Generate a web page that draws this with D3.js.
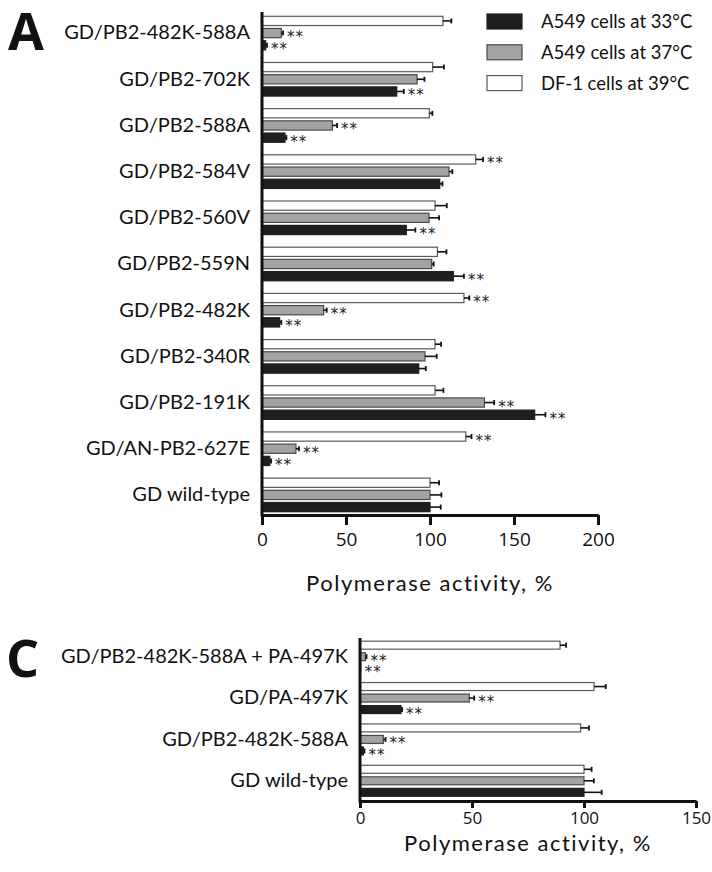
<!DOCTYPE html>
<html><head><meta charset="utf-8">
<script src="https://cdn.jsdelivr.net/npm/d3@7"></script>
<style>
body{margin:0;background:#fff;}
text{font-family:Lato,"Open Sans",sans-serif;fill:#111;}
</style></head>
<body><svg id="c" width="712" height="872"></svg>
<script>
// ---------- DATA ----------
const seriesNames = ["A549 cells at 33°C","A549 cells at 37°C","DF-1 cells at 39°C"];
const catsA = ["GD/PB2-482K-588A","GD/PB2-702K","GD/PB2-588A","GD/PB2-584V","GD/PB2-560V","GD/PB2-559N","GD/PB2-482K","GD/PB2-340R","GD/PB2-191K","GD/AN-PB2-627E","GD wild-type"];
const a33A  = [2.2, 80.2, 13.7, 105.8, 85.9, 113.9, 10.5, 93.3, 162.3, 4.6, 100];
const a37A  = [11.5, 92.3, 41.9, 111.3, 99.4, 101.0, 36.7, 97.0, 132.4, 20.2, 100];
const df39A = [107.7, 101.6, 99.6, 127.2, 103.0, 104.4, 120.2, 103.0, 103.0, 121.3, 100];
const a33ErrA  = [0.8, 4.2, 0.8, 1.6, 5.4, 6.3, 1.0, 4.2, 6.4, 0.8, 6.4];
const a37ErrA  = [1.0, 4.4, 2.8, 2.0, 6.0, 1.2, 1.8, 7.0, 5.8, 1.8, 6.8];
const df39ErrA = [5.0, 6.7, 1.8, 4.4, 7.0, 5.4, 3.2, 3.6, 5.0, 3.4, 5.4];
const a33SigA  = [1,1,1,0,1,1,1,0,1,1,0];
const a37SigA  = [1,0,1,0,0,0,1,0,1,1,0];
const df39SigA = [0,0,0,1,0,0,1,0,0,1,0];
const ticksA = [0,50,100,150,200];

const catsC = ["GD/PB2-482K-588A + PA-497K","GD/PA-497K","GD/PB2-482K-588A","GD wild-type"];
const a33C  = [0.3, 18.3, 1.5, 100];
const a37C  = [2.4, 48.8, 10.4, 100];
const df39C = [89.3, 104.5, 98.5, 100];
const a33ErrC  = [0, 0.5, 0.5, 7.9];
const a37ErrC  = [0.5, 2.2, 1.0, 4.4];
const df39ErrC = [2.7, 5.2, 3.7, 3.4];
const a33SigC  = [1,1,1,0];
const a37SigC  = [1,1,1,0];
const df39SigC = [0,0,0,0];
const ticksC = [0,50,100,150];

const axisTitle = "Polymerase activity, %";

// ---------- STYLE ----------
const fills = ["#1f1f1f","#a3a3a3","#ffffff"];
const strokes = ["#1f1f1f","#4a4a4a","#5a5a5a"];

const svg = d3.select("#c");

function panel(cfg){
  const g = svg.append("g");
  const x = d3.scaleLinear().domain(cfg.domain).range(cfg.xr);
  const y = d3.scaleBand().domain(cfg.cats).range(cfg.yr);
  const inner = d3.scaleBand().domain([2,1,0]).range([-cfg.half, cfg.half]).paddingInner(cfg.pad);
  const vals = [cfg.a33, cfg.a37, cfg.df39];
  const errs = [cfg.e33, cfg.e37, cfg.edf];
  const sigs = [cfg.s33, cfg.s37, cfg.sdf];
  const rows = [];
  cfg.cats.forEach((c,i)=>{
    [0,1,2].forEach(s=>rows.push({c, s, v:vals[s][i], e:errs[s][i], sig:sigs[s][i]}));
  });
  const yc = d => y(d.c) + y.bandwidth()/2 + inner(d.s);
  g.selectAll("rect.bar").data(rows).join("rect").attr("class","bar")
    .attr("x", x(0)).attr("y", d=>yc(d)+0.5)
    .attr("width", d=>Math.max(0, x(d.v)-x(0)))
    .attr("height", inner.bandwidth()-1)
    .attr("fill", d=>fills[d.s]).attr("stroke", d=>strokes[d.s]).attr("stroke-width",1.2);
  const eb = rows.filter(d=>d.e>0);
  g.selectAll("line.err").data(eb).join("line").attr("class","err")
    .attr("x1", d=>x(d.v)).attr("x2", d=>x(d.v+d.e))
    .attr("y1", d=>yc(d)+inner.bandwidth()/2).attr("y2", d=>yc(d)+inner.bandwidth()/2)
    .attr("stroke","#111").attr("stroke-width",1.6);
  g.selectAll("line.cap").data(eb).join("line").attr("class","cap")
    .attr("x1", d=>x(d.v+d.e)).attr("x2", d=>x(d.v+d.e))
    .attr("y1", d=>yc(d)+inner.bandwidth()/2-2.5).attr("y2", d=>yc(d)+inner.bandwidth()/2+2.5)
    .attr("stroke","#111").attr("stroke-width",1.8);
  g.selectAll("text.sig").data(rows.filter(d=>d.sig)).join("text").attr("class","sig")
    .attr("x", d=>x(d.v+d.e)+4).attr("y", d=>yc(d)+inner.bandwidth()/2+9)
    .attr("font-size",15).style("font-family","'DejaVu Sans'").style("fill","#222")
    .style("letter-spacing","1px").text("**");
  const ya = d3.axisLeft(y).tickSize(0).tickPadding(12);
  const yg = g.append("g").attr("transform",`translate(${x(0)},0)`).call(ya);
  yg.select(".domain").remove();
  yg.selectAll("text").attr("font-size",cfg.labFs).style("font-family","Lato,'Open Sans',sans-serif").attr("fill","#111");
  g.append("line").attr("x1",x(0)).attr("x2",x(0)).attr("y1",cfg.ytop).attr("y2",cfg.xaxisY+1.5)
    .attr("stroke","#111").attr("stroke-width",3);
  const xa = d3.axisBottom(x).tickValues(cfg.ticks).tickSize(cfg.tickLen).tickSizeOuter(0).tickPadding(cfg.tickPad).tickFormat(d3.format("d"));
  const xg = g.append("g").attr("transform",`translate(0,${cfg.xaxisY})`).call(xa);
  xg.select(".domain").attr("stroke","#111").attr("stroke-width",3);
  xg.selectAll(".tick line").attr("stroke","#111").attr("stroke-width",3);
  xg.selectAll("text").attr("font-size",cfg.tickFs).style("font-family","'Open Sans',sans-serif").attr("fill","#111");
  g.append("text").attr("x",(cfg.xr[0]+cfg.xr[1])/2).attr("y",cfg.titleY)
    .attr("text-anchor","middle").attr("font-size",22).style("letter-spacing","1.5px")
    .style("font-family","Lato,'Open Sans',sans-serif").text(axisTitle);
  return {x,y};
}

panel({cats:catsA, domain:[0,200], xr:[262,598], yr:[10,518], half:17.3, pad:0.16,
  a33:a33A, a37:a37A, df39:df39A, e33:a33ErrA, e37:a37ErrA, edf:df39ErrA,
  s33:a33SigA, s37:a37SigA, sdf:df39SigA, ticks:ticksA, ytop:12, xaxisY:515, tickLen:10, tickPad:8, tickFs:19, titleY:591, labFs:20});

panel({cats:catsC, domain:[0,150], xr:[360,696], yr:[636,801.5], half:16, pad:0.22,
  a33:a33C, a37:a37C, df39:df39C, e33:a33ErrC, e37:a37ErrC, edf:df39ErrC,
  s33:a33SigC, s37:a37SigC, sdf:df39SigC, ticks:ticksC, ytop:638, xaxisY:801, tickLen:7, tickPad:4, tickFs:17, titleY:851, labFs:20});

svg.append("text").attr("x",8).attr("y",50).attr("font-size",52).attr("font-weight","bold").style("font-family","'Open Sans',sans-serif").text("A");
svg.append("text").attr("x",6).attr("y",677).attr("font-size",52).attr("font-weight","bold").style("font-family","'Open Sans',sans-serif").text("C");

const lg = svg.append("g");
seriesNames.forEach((n,i)=>{
  lg.append("rect").attr("x",487).attr("y",14+i*30.8).attr("width",35).attr("height",15)
    .attr("fill",fills[i]).attr("stroke",strokes[i]).attr("stroke-width",1.2);
  lg.append("text").attr("x",541).attr("y",28+i*30.8).attr("font-size",18.5).text(n);
});
</script></body></html>
